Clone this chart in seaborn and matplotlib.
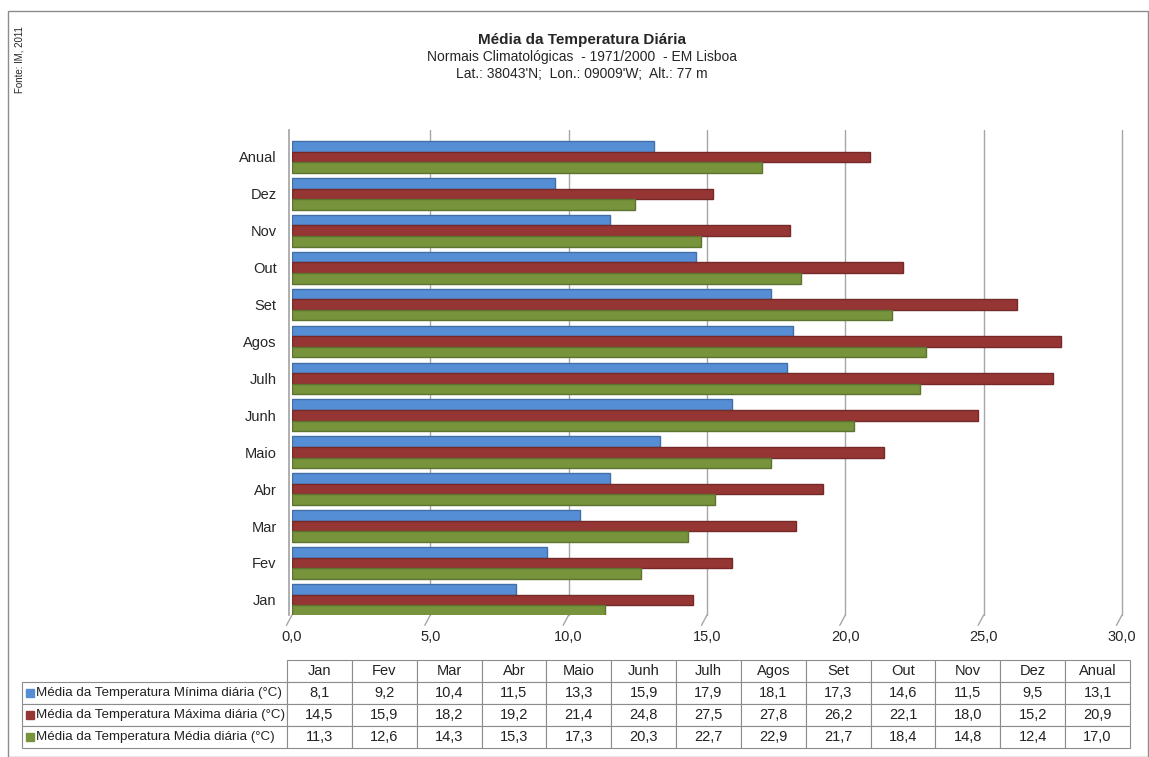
import matplotlib
matplotlib.use("Agg")
import matplotlib.pyplot as plt
from matplotlib.colors import to_rgb
import seaborn as sns
import pandas as pd

# Normais climatológicas 1971/2000 - Lisboa
months = ["Jan", "Fev", "Mar", "Abr", "Maio", "Junh", "Julh", "Agos",
          "Set", "Out", "Nov", "Dez", "Anual"]
t_min = [8.1, 9.2, 10.4, 11.5, 13.3, 15.9, 17.9, 18.1, 17.3, 14.6, 11.5, 9.5, 13.1]
t_max = [14.5, 15.9, 18.2, 19.2, 21.4, 24.8, 27.5, 27.8, 26.2, 22.1, 18.0, 15.2, 20.9]
t_med = [11.3, 12.6, 14.3, 15.3, 17.3, 20.3, 22.7, 22.9, 21.7, 18.4, 14.8, 12.4, 17.0]
series_names = ["Média da Temperatura Mínima diária (°C)",
                "Média da Temperatura Máxima diária (°C)",
                "Média da Temperatura Média diária (°C)"]
series_colors = ["#558ED5", "#963634", "#77933C"]
x_ticks = [0, 5, 10, 15, 20, 25, 30]

sns.set_theme(style="white")
plt.rcParams["font.family"] = ["Liberation Sans Narrow", "Liberation Sans", "DejaVu Sans"]

W, H = 1149, 757
fig = plt.figure(figsize=(W / 100, H / 100), dpi=100)
fig.patch.set_facecolor("white")

# outer frame
fig.add_artist(plt.Rectangle((8 / W, 0), (W - 9) / W, 1 - 11 / H, transform=fig.transFigure,
                             fill=False, edgecolor="#8c8c8c", linewidth=1))

df = pd.DataFrame({
    "mes": months * 3,
    "valor": t_min + t_max + t_med,
    "serie": [series_names[0]] * len(months) + [series_names[1]] * len(months)
             + [series_names[2]] * len(months),
})

ax = fig.add_axes([292 / W, 1 - 615 / H, (1122 - 292) / W, (615 - 130) / H])
order = months[::-1]
sns.barplot(data=df, y="mes", x="valor", hue="serie", order=order,
            hue_order=series_names, palette=series_colors, orient="h",
            width=0.86, ax=ax, legend=False, errorbar=None, saturation=1)

for patch in ax.patches:
    r, g, b = to_rgb(patch.get_facecolor())
    patch.set_edgecolor((r * 0.78, g * 0.78, b * 0.78))
    patch.set_linewidth(1.0)

ax.set_xlim(0, 30)
ax.set_ylim(len(months) - 1 + 0.41, -0.73)
ax.set_xticks(x_ticks)
ax.set_xticklabels([f"{t:.1f}".replace(".", ",") for t in x_ticks], fontsize=10.5)
ax.tick_params(axis="x", pad=11, length=0)
ax.tick_params(axis="y", pad=9, length=0, labelsize=10.5)
ax.set_xlabel("")
ax.set_ylabel("")
for t in x_ticks[1:]:
    ax.axvline(t, color="#a6a6a6", linewidth=1, zorder=0, clip_on=False)
for side in ["top", "right", "bottom"]:
    ax.spines[side].set_visible(False)
ax.spines["left"].set_color("#a6a6a6")
ax.spines["left"].set_position(("outward", 2))

# floor edges under each gridline
ybot = len(months) - 1 + 0.41
for t in x_ticks:
    ax.plot([t, t - 0.2], [ybot, ybot + 0.28], color="#a6a6a6", linewidth=1,
            clip_on=False, zorder=0)

# titles
fig.text(582 / W, 1 - 40 / H, "Média da Temperatura Diária", ha="center", va="center",
         fontsize=11, fontweight="bold")
fig.text(582 / W, 1 - 57 / H, "Normais Climatológicas  - 1971/2000  - EM Lisboa",
         ha="center", va="center", fontsize=10)
fig.text(582 / W, 1 - 74 / H, "Lat.: 38043'N;  Lon.: 09009'W;  Alt.: 77 m",
         ha="center", va="center", fontsize=10)
fig.text(20 / W, 1 - 60 / H, "Fonte: IM, 2011", rotation=90, ha="center", va="center",
         fontsize=7)

# data table
tx0, tx1, ty0, ty1 = 22, 1130, 660, 748
tab_ax = fig.add_axes([tx0 / W, 1 - ty1 / H, (tx1 - tx0) / W, (ty1 - ty0) / H])
tab_ax.axis("off")
fmt = lambda v: f"{v:.1f}".replace(".", ",")
cell_text = [[""] + months] + [[""] + [fmt(v) for v in s] for s in (t_min, t_max, t_med)]
first_w = (287 - tx0) / (tx1 - tx0)
col_w = [first_w] + [(1 - first_w) / len(months)] * len(months)
tbl = tab_ax.table(cellText=cell_text, colWidths=col_w, bbox=[0, 0, 1, 1], cellLoc="center")
tbl.auto_set_font_size(False)
tbl.set_fontsize(10.5)
for (r, c), cell in tbl.get_celld().items():
    cell.set_edgecolor("#8c8c8c")
    cell.set_linewidth(0.8)
    cell.get_text().set_color("#222222")
tbl[0, 0].visible_edges = ""

row_h = 1 / 4
for i, (name, col) in enumerate(zip(series_names, series_colors)):
    yc = 1 - row_h * (i + 1.5)
    tab_ax.plot([0.007], [yc], marker="s", markersize=5.5, color=col,
                transform=tab_ax.transAxes, clip_on=False)
    tab_ax.text(0.013, yc, name, transform=tab_ax.transAxes, va="center", ha="left",
                fontsize=9.6, color="#222222")

fig.savefig("out.png", dpi=100, facecolor="white")
